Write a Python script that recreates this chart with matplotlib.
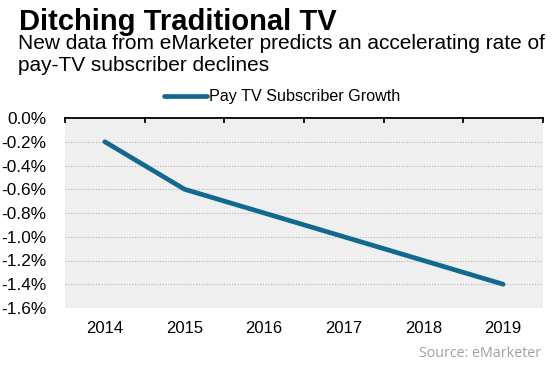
import numpy as np
import matplotlib.pyplot as plt
from matplotlib.ticker import FuncFormatter

years = ['2014', '2015', '2016', '2017', '2018', '2019']
growth = [-0.2, -0.6, -0.8, -1.0, -1.2, -1.4]  # percent
yticks = [0.0, -0.2, -0.4, -0.6, -0.8, -1.0, -1.2, -1.4, -1.6]

plt.rcParams['font.family'] = ['Liberation Sans', 'DejaVu Sans']

fig = plt.figure(figsize=(5.53, 3.69), dpi=100)
ax = fig.add_axes([65/553, 1 - 308/369, (543 - 65)/553, (308 - 118)/369])
ax.set_facecolor('#efefef')

x = np.arange(len(years))
line, = ax.plot(x, growth, color='#13688f', lw=3.4, solid_capstyle='round',
                solid_joinstyle='round', label='Pay TV Subscriber Growth', zorder=3)

ax.set_xlim(-0.5, len(years) - 0.5)
ax.set_ylim(-1.6, 0.0)
ax.set_yticks(yticks)
ax.yaxis.set_major_formatter(FuncFormatter(lambda v, p: f'{v:.1f}%' if abs(v) > 1e-9 else '0.0%'))
ax.tick_params(axis='y', length=0, labelsize=12.4, pad=13.5)

ax.set_xticks(x)
ax.set_xticklabels(years)
ax.tick_params(axis='x', which='major', length=0, labelsize=12, pad=9.5)

# gridlines (dotted), the zero line is the black axis at the top
for v in yticks[1:]:
    ax.axhline(v, color='#b5b5b5', lw=0.8, ls=(0, (1, 1.5)), zorder=1)

for s in ['left', 'right', 'bottom']:
    ax.spines[s].set_visible(False)
ax.spines['top'].set_color('black')
ax.spines['top'].set_linewidth(1.3)

# category boundary ticks hanging down from the top axis
for xb in np.arange(-0.5, len(years), 1.0):
    ax.plot([xb, xb], [0, -0.035], color='black', lw=1.3, clip_on=False, zorder=4)

fig.text(19/553, 1 - 30/369, 'Ditching Traditional TV', fontsize=21,
         fontweight='bold', ha='left', va='baseline')
fig.text(18/553, 1 - 49/369, 'New data from eMarketer predicts an accelerating rate of',
         fontsize=15, ha='left', va='baseline')
fig.text(18/553, 1 - 71/369, 'pay-TV subscriber declines',
         fontsize=15, ha='left', va='baseline')

fig.legend(handles=[line], loc='center', bbox_to_anchor=(282/553, 1 - 97/369),
           frameon=False, fontsize=11.6, handlelength=2.7, handletextpad=0.1)

fig.text(541/553, 1 - 357/369, 'Source: eMarketer', fontsize=10.3, color='#a0a0a0',
         family=['Open Sans', 'DejaVu Sans'], ha='right', va='baseline')

fig.savefig('out.png', dpi=100)
